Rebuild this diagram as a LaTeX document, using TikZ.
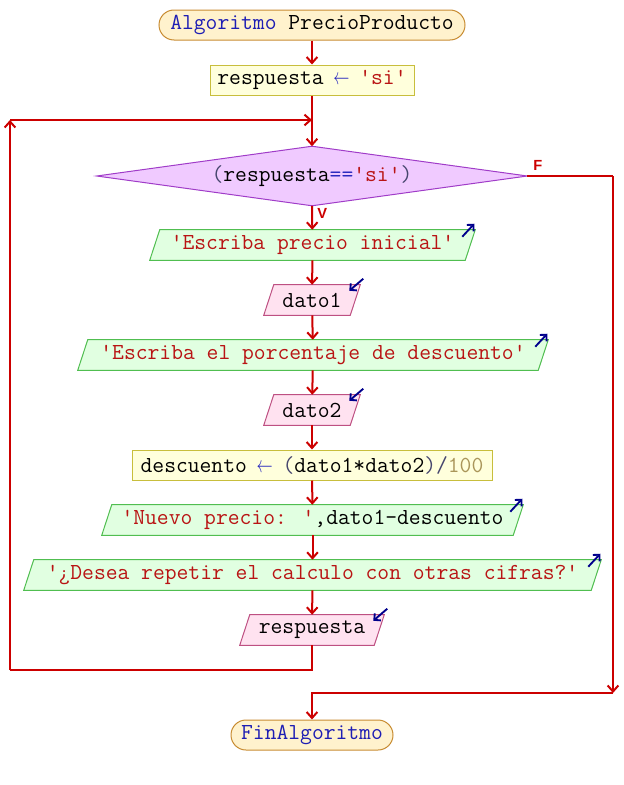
\documentclass[tikz,border=0pt]{standalone}
\usepackage{fontspec}
\setsansfont{Liberation Sans}
\usetikzlibrary{arrows.meta,calc}
\definecolor{arr}{RGB}{204,0,0}
\definecolor{kw}{RGB}{30,30,180}
\definecolor{str}{RGB}{185,20,20}
\definecolor{op}{RGB}{40,40,190}
\definecolor{par}{RGB}{70,70,110}
\definecolor{num}{RGB}{170,150,90}
\definecolor{termfill}{RGB}{255,242,205}
\definecolor{termdraw}{RGB}{200,140,50}
\definecolor{asgfill}{RGB}{255,255,220}
\definecolor{asgdraw}{RGB}{200,190,60}
\definecolor{condfill}{RGB}{240,202,255}
\definecolor{conddraw}{RGB}{160,60,200}
\definecolor{outfill}{RGB}{225,255,225}
\definecolor{outdraw}{RGB}{80,190,80}
\definecolor{infill}{RGB}{255,226,240}
\definecolor{indraw}{RGB}{190,80,130}
\definecolor{icn}{RGB}{0,0,140}
\pgfdeclarelayer{background}
\pgfsetlayers{background,main}
\newcommand\qq{\textquotesingle}
\newcommand\larr{{\color{op}\makebox[0.525em]{\scalebox{0.7}[1]{$\leftarrow$}}}}
\newcommand\paragr[2]{\begin{pgfonlayer}{background}\filldraw[#2] ($(#1.south west)+(-5,0)$) -- ($(#1.south east)+(-5,0)$) -- ($(#1.north east)+(5,0)$) -- ($(#1.north west)+(5,0)$) -- cycle;\end{pgfonlayer}}
\newcommand\outicon[1]{\draw[icon] ($(#1.north east)+(-8,7)$) -- ($(#1.north east)+(4,-6)$);}
\newcommand\inicon[1]{\draw[icon] ($(#1.north east)+(8,-6)$) -- ($(#1.north east)+(-6,6)$);}
\begin{document}
\begin{tikzpicture}[x=0.75pt,y=-0.75pt,
  txt/.style={font=\ttfamily\fontsize{17.2}{18}\selectfont, inner sep=0pt, minimum height=22.5pt},
  term/.style={txt, draw=termdraw, fill=termfill, line width=0.75pt, rounded corners=11.25pt},
  assign/.style={txt, draw=asgdraw, fill=asgfill, line width=0.75pt},
  io/.style={txt},
  conn/.style={draw=arr, line width=1.5pt},
  arrow/.style={conn, -{Straight Barb[length=4.5pt,width=8pt,line width=1.5pt]}},
  icon/.style={draw=icn, line width=1.4pt, -{Straight Barb[length=3.5pt,width=7pt,line width=1.4pt]}},
  lbl/.style={font=\sffamily\bfseries\fontsize{11}{12}\selectfont, text=arr, inner sep=0pt}
]
\useasboundingbox (0,0) rectangle (624,785);

\node[term, minimum width=229.5pt] (start) at (312,25) {{\color{kw}Algoritmo} PrecioProducto};
\node[assign, minimum width=153pt] (a1) at (312,80) {respuesta \larr{} {\color{str}\qq si\qq}};
\node[txt, minimum width=322.5pt, minimum height=44.25pt] (d) at (312,176) {{\color{par}(}respuesta{\color{op}==}{\color{str}\qq si\qq}{\color{par})}};
\begin{pgfonlayer}{background}
\filldraw[fill=condfill, draw=conddraw, line width=0.75pt] (d.north) -- (d.east) -- (d.south) -- (d.west) -- cycle;
\end{pgfonlayer}

\node[io, minimum width=236.25pt] (o1) at (312.5,245) {\color{str}\qq Escriba precio inicial\qq};
\paragr{o1}{fill=outfill, draw=outdraw, line width=0.75pt}
\node[io, minimum width=64.5pt] (i1) at (312,300) {dato1};
\paragr{i1}{fill=infill, draw=indraw, line width=0.75pt}
\node[io, minimum width=345pt] (o2) at (313,355) {\color{str}\qq Escriba el porcentaje de descuento\qq};
\paragr{o2}{fill=outfill, draw=outdraw, line width=0.75pt}
\node[io, minimum width=64.5pt] (i2) at (312,410) {dato2};
\paragr{i2}{fill=infill, draw=indraw, line width=0.75pt}
\node[assign, minimum width=270pt] (a2) at (312,465) {descuento \larr{} {\color{par}(}dato1*dato2{\color{par})}{\color{par}/}{\color{num}100}};
\node[io, minimum width=308.25pt] (o3) at (312.5,520) {{\color{str}\qq Nuevo precio: \qq},dato1-descuento};
\paragr{o3}{fill=outfill, draw=outdraw, line width=0.75pt}
\node[io, minimum width=425.25pt] (o4) at (312.5,575) {\color{str}\qq ¿Desea repetir el calculo con otras cifras?\qq};
\paragr{o4}{fill=outfill, draw=outdraw, line width=0.75pt}
\node[io, minimum width=100.5pt] (i3) at (312,630) {respuesta};
\paragr{i3}{fill=infill, draw=indraw, line width=0.75pt}
\node[term, minimum width=121.5pt] (end) at (312,735) {\color{kw}FinAlgoritmo};

\outicon{o1}\outicon{o2}\outicon{o3}\outicon{o4}
\inicon{i1}\inicon{i2}\inicon{i3}

\coordinate (j1) at (312,120);
\coordinate (cL1) at (10,670);
\coordinate (cL2) at (10,120);
\coordinate (cR1) at (613,176);
\coordinate (cR2) at (613,693);

\draw[arrow] (start) -- (a1);
\draw[arrow] (a1) -- (d);
\draw[conn] (i3.south) |- (cL1);
\draw[arrow] (cL1) -- (cL2);
\draw[arrow] (cL2) -- (j1);
\draw[arrow] (d.south) -- (o1);
\node[lbl, anchor=west] (v) at (317,213) {V};
\draw[conn] (d.east) -- (cR1);
\node[lbl, anchor=west] (f) at (533,165) {F};
\draw[arrow] (cR1) -- (cR2);
\draw[arrow] (cR2) -| (end.north);
\draw[arrow] (o1) -- (i1);
\draw[arrow] (i1) -- (o2);
\draw[arrow] (o2) -- (i2);
\draw[arrow] (i2) -- (a2);
\draw[arrow] (a2) -- (o3);
\draw[arrow] (o3) -- (o4);
\draw[arrow] (o4) -- (i3);
\end{tikzpicture}
\end{document}
